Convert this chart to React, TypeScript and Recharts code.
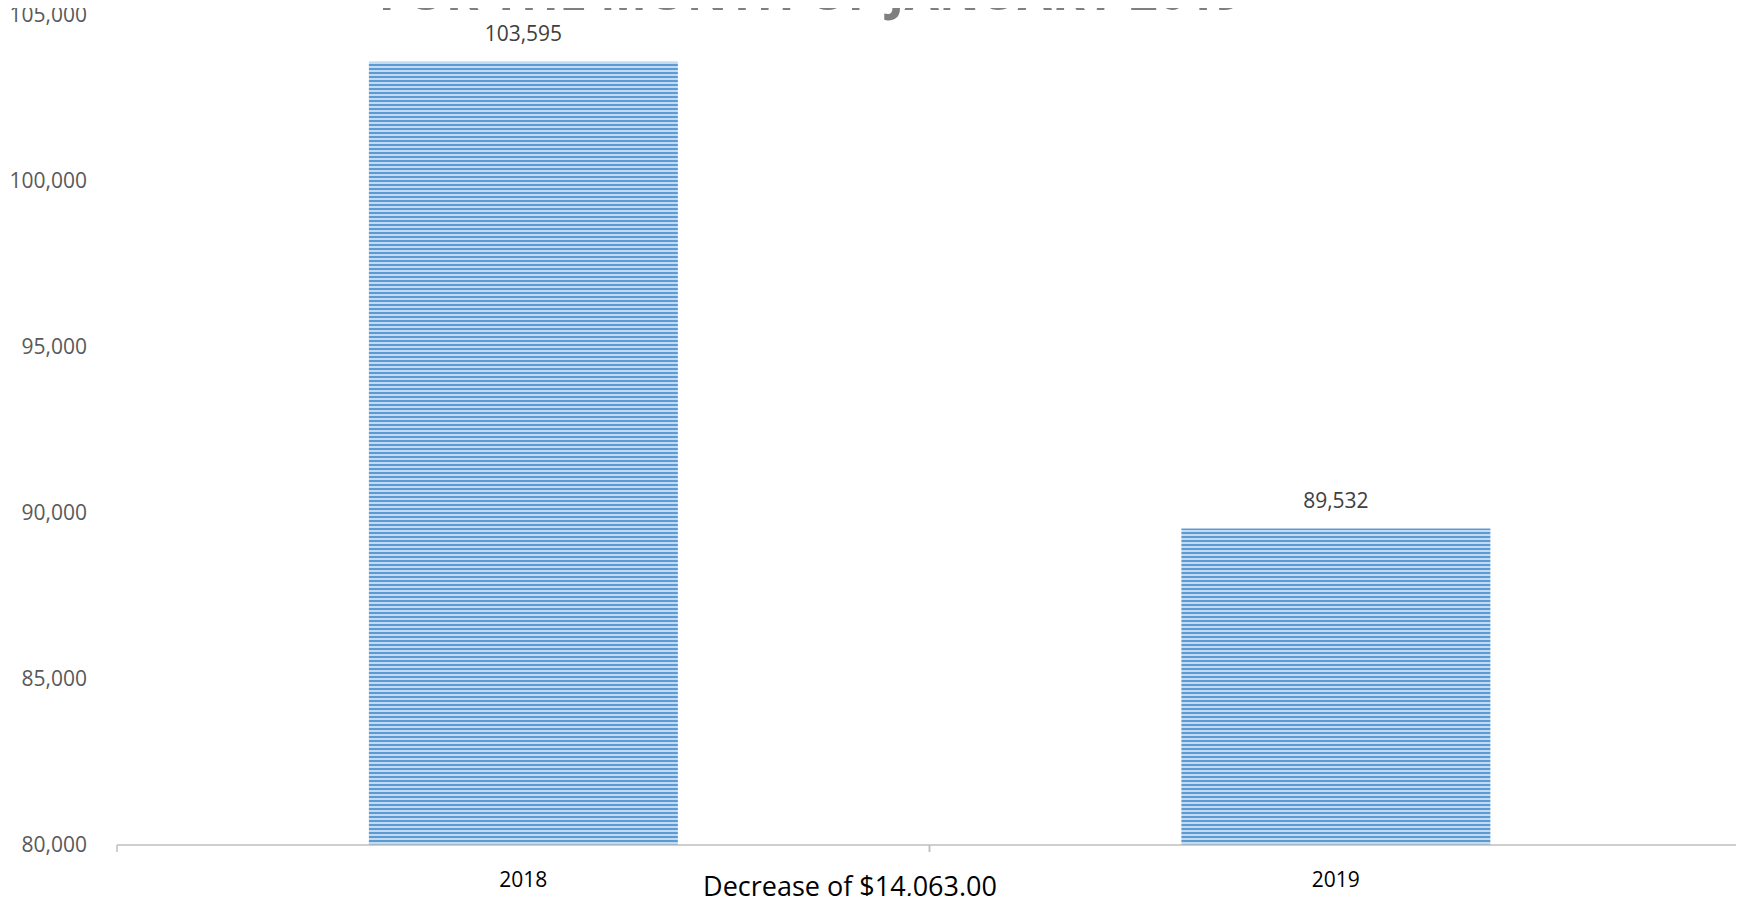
import { BarChart, Bar, XAxis, YAxis, LabelList } from 'recharts';

const years = ['2018', '2019'];
const income = [103595, 89532];
const yTicks = [80000, 85000, 90000, 95000, 100000, 105000];
const titleText = 'FOR THE MONTH OF JANUARY 2019';
const changeText = 'Decrease of $14,063.00';

const chartData = years.map((year, i) => ({ year, value: income[i] }));

const FONT = '"Open Sans", sans-serif';

function fmt(v: number): string {
  return v.toLocaleString('en-US');
}

// category label in the middle, small tick marks on the band edges (like Excel)
function YearTick(props: any) {
  const { x, y, payload, width, visibleTicksCount } = props;
  const half = payload?.offset ?? width / (visibleTicksCount || 1) / 2;
  return (
    <g>
      <line x1={x - half} x2={x - half} y1={y} y2={y + 7} stroke="#bfbfbf" strokeWidth={1.5} />
      <line x1={x + half} x2={x + half} y1={y} y2={y + 7} stroke="#bfbfbf" strokeWidth={1.5} />
      <text x={x} y={y + 42} textAnchor="middle" fill="#000" fontSize={21} fontFamily={FONT}>
        {payload.value}
      </text>
    </g>
  );
}

export default function App() {
  return (
    <div style={{ margin: -8, position: 'relative', width: 1744, height: 904, background: '#fff' }}>
      <BarChart
        width={1744}
        height={904}
        data={chartData}
        margin={{ top: 15, right: 2, left: 0, bottom: 0 }}
        barCategoryGap="31%"
      >
        <defs>
          <pattern id="hstripes" patternUnits="userSpaceOnUse" width={8} height={4}>
            <rect x={0} y={0} width={8} height={4} fill="#c3daf0" />
            <rect x={0} y={0} width={8} height={2} fill="#5b9bd5" />
          </pattern>
        </defs>
        <XAxis
          dataKey="year"
          height={59}
          axisLine={{ stroke: '#bfbfbf', strokeWidth: 1.5 }}
          tickLine={false}
          tickSize={0}
          tickMargin={0}
          tick={<YearTick />}
        />
        <YAxis
          width={117}
          domain={[80000, 105000]}
          ticks={yTicks}
          allowDataOverflow
          axisLine={false}
          tickLine={false}
          tickSize={0}
          tickMargin={30}
          tickFormatter={fmt}
          tick={{ fill: '#595959', fontSize: 21, fontFamily: FONT }}
        />
        <Bar dataKey="value" fill="url(#hstripes)" isAnimationActive={false}>
          <LabelList
            dataKey="value"
            position="top"
            offset={21}
            formatter={(v: any) => fmt(Number(v))}
            fill="#404040"
            fontSize={21}
            fontFamily={FONT}
          />
        </Bar>
      </BarChart>
      <svg
        width={1744}
        height={904}
        style={{ position: 'absolute', left: 0, top: 0, pointerEvents: 'none' }}
      >
        {/* title sits mostly above the visible area, as in the source */}
        <text x={811} y={10} textAnchor="middle" fill="#7f7f7f" fontSize={50} fontWeight="bold" fontFamily={FONT}>
          {titleText}
        </text>
        <text x={850} y={896} textAnchor="middle" fill="#000" fontSize={27} fontFamily={FONT}>
          {changeText}
        </text>
      </svg>
    </div>
  );
}
